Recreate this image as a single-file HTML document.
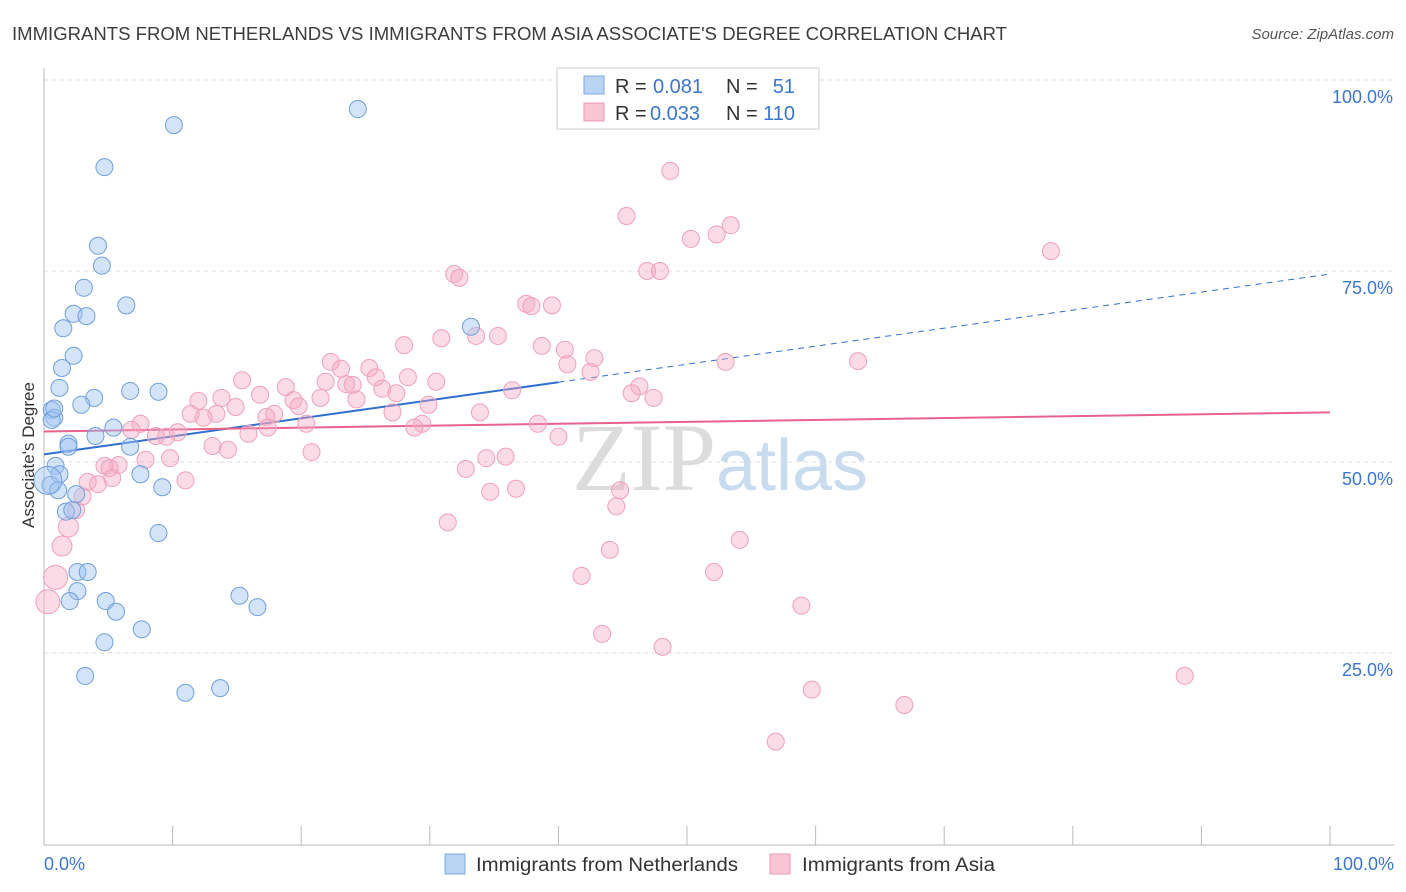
<!DOCTYPE html>
<html><head><meta charset="utf-8"><style>
body{margin:0;background:#fff;font-family:"Liberation Sans",sans-serif;}
svg{display:block}
</style></head><body>
<svg id="chart" width="1406" height="892" xmlns="http://www.w3.org/2000/svg">
<text x="12" y="40" font-size="18" fill="#3c3c3c" textLength="995" lengthAdjust="spacingAndGlyphs">IMMIGRANTS FROM NETHERLANDS VS IMMIGRANTS FROM ASIA ASSOCIATE'S DEGREE CORRELATION CHART</text>
<text x="1394" y="39" font-size="15" fill="#555" font-style="italic" text-anchor="end">Source: ZipAtlas.com</text>
<text x="720" y="490" font-size="96" fill="#dcdcdc" text-anchor="middle" font-family="Liberation Serif,serif">ZIP<tspan fill="#c9dbef" font-family="Liberation Sans,sans-serif" font-size="72">atlas</tspan></text>
<g id="grid"></g><g id="axes"></g><g id="trend"></g><g id="pts"></g>
<text transform="translate(34,455) rotate(-90)" font-size="17" fill="#333" text-anchor="middle">Associate's Degree</text>
<g>
<rect x="557" y="68" width="262" height="61" fill="#fff" stroke="#ccc"/>
<rect x="584" y="76" width="20" height="18" fill="#b9d3f3" stroke="#7fa9e0"/>
<rect x="584" y="103" width="20" height="18" fill="#f9c4d4" stroke="#ef9ab5"/>
<text x="615" y="93" font-size="20" fill="#333">R =</text>
<text x="653" y="93" font-size="20" fill="#3a76d0">0.081</text>
<text x="726" y="93" font-size="20" fill="#333">N =</text>
<text x="795" y="93" font-size="20" fill="#3a76d0" text-anchor="end">51</text>
<text x="615" y="120" font-size="20" fill="#333">R =</text>
<text x="650" y="120" font-size="20" fill="#3a76d0">0.033</text>
<text x="726" y="120" font-size="20" fill="#333">N =</text>
<text x="795" y="120" font-size="20" fill="#3a76d0" text-anchor="end">110</text>
</g>
<g><rect x="445" y="854" width="20" height="20" fill="#b9d3f3" stroke="#7fa9e0"/><text x="476" y="871" font-size="19" fill="#333" textLength="262" lengthAdjust="spacingAndGlyphs">Immigrants from Netherlands</text></g>
<g><rect x="770" y="854" width="20" height="20" fill="#f9c4d4" stroke="#ef9ab5"/><text x="802" y="871" font-size="19" fill="#333" textLength="193" lengthAdjust="spacingAndGlyphs">Immigrants from Asia</text></g>
</svg>
<script>
const blueX=[24.4,10.1,4.7,4.2,4.5,3.1,6.4,2.3,3.3,1.5,2.3,1.4,1.2,6.7,8.9,3.9,2.9,0.6,0.8,0.6,5.4,4.0,1.9,1.9,6.7,0.9,1.2,7.5,0.5,9.2,1.1,2.5,1.7,2.2,8.9,2.6,3.4,2.6,2.0,4.8,5.6,15.2,16.6,7.6,4.7,3.2,11.0,13.7,33.2,0.3,0.8];
const blueY=[96.2,94.1,88.6,78.3,75.7,72.8,70.5,69.4,69.1,67.5,63.9,62.3,59.7,59.3,59.2,58.4,57.5,56.8,55.8,55.5,54.5,53.4,52.4,52.0,52.0,49.5,48.4,48.4,47.0,46.7,46.3,45.8,43.5,43.7,40.7,35.6,35.6,33.1,31.8,31.8,30.4,32.5,31.0,28.1,26.4,22.0,19.8,20.4,67.7,47.6,57.0];
const pinkX=[48.7,45.3,53.4,52.3,50.3,78.3,31.9,32.3,46.9,47.9,37.5,37.9,39.5,30.9,33.6,35.3,28.0,38.7,40.5,42.8,53.0,63.3,40.7,22.3,23.1,25.3,25.8,28.3,21.9,23.5,24.0,26.3,30.5,36.4,15.4,18.8,19.4,19.8,21.5,24.3,27.4,29.9,16.8,12.0,13.8,14.9,46.3,45.7,47.4,42.5,11.4,13.4,12.4,17.3,17.9,20.4,27.1,29.4,28.8,33.9,38.4,40.0,17.4,15.9,8.7,9.5,10.4,7.5,6.8,13.1,14.3,20.8,9.8,7.9,5.8,4.7,5.1,5.3,11.0,3.4,4.2,3.0,2.5,32.8,34.4,35.9,34.7,36.7,44.8,44.5,1.9,1.4,31.4,44.0,54.1,0.9,0.3,41.8,52.1,58.9,43.4,48.1,59.7,66.9,88.7,56.9];
const pinkY=[88.1,82.2,81.0,79.8,79.2,77.6,74.6,74.1,75.0,75.0,70.7,70.4,70.5,66.2,66.5,66.5,65.3,65.2,64.7,63.6,63.1,63.2,62.8,63.1,62.2,62.3,61.1,61.1,60.5,60.2,60.1,59.6,60.5,59.4,60.7,59.8,58.1,57.3,58.4,58.2,59.0,57.5,58.8,58.0,58.4,57.2,59.9,59.0,58.4,61.8,56.3,56.3,55.8,55.9,56.3,55.0,56.5,55.0,54.5,56.5,55.0,53.3,54.5,53.7,53.4,53.3,53.9,55.0,54.2,52.1,51.6,51.3,50.5,50.3,49.6,49.5,49.2,47.9,47.6,47.4,47.1,45.5,43.7,49.1,50.5,50.7,46.1,46.5,46.3,44.2,41.5,39.0,42.1,38.5,39.8,34.9,31.7,35.1,35.6,31.2,27.5,25.8,20.2,18.2,22.0,13.4];
const blueTrend=[51.0,74.6];
const pinkTrend=[54.0,56.5];
const yTicks=[25,50,75,100];
const xTicks=[0,10,20,30,40,50,60,70,80,90,100];
const NS='http://www.w3.org/2000/svg';
const sx=v=>44+v*12.86, sy=v=>844-v*7.64;
function mk(tag,attrs,parent){const e=document.createElementNS(NS,tag);for(const k in attrs)e.setAttribute(k,attrs[k]);document.getElementById(parent).appendChild(e);return e;}
yTicks.forEach(t=>{
 const l=mk('line',{x1:44,x2:1394,y1:sy(t),y2:sy(t),stroke:'#ddd','stroke-dasharray':'4,4'},'grid');
 
 
 const tx=mk('text',{x:1393,y:sy(t)+23,'font-size':18,fill:'#3a76d0','text-anchor':'end'},'grid');tx.textContent=t.toFixed(1)+'%';
 
 
});
const xa=mk('line',{x1:44,x2:1394,y1:845,y2:845,stroke:'#bbb'},'axes');


const ya=mk('line',{x1:44,x2:44,y1:68,y2:845,stroke:'#bbb'},'axes');


xTicks.forEach(t=>{const l=mk('line',{x1:sx(t),x2:sx(t),y1:826,y2:845,stroke:'#bbb'},'axes');
 
 });
[[0,'0.0%','start',44],[100,'100.0%','end',1394]].forEach(a=>{const t=mk('text',{x:a[3],y:870,'font-size':18,fill:'#3a76d0','text-anchor':a[2]},'axes');t.textContent=a[1];
 
 });
const bAt=x=>blueTrend[0]+(blueTrend[1]-blueTrend[0])*x/100;
let t1=mk('line',{x1:sx(0),y1:sy(bAt(0)),x2:sx(40),y2:sy(bAt(40)),stroke:'#2f6fd0','stroke-width':2},'trend');


let t2=mk('line',{x1:sx(40),y1:sy(bAt(40)),x2:sx(100),y2:sy(bAt(100)),stroke:'#2f6fd0','stroke-width':1,'stroke-dasharray':'6,5'},'trend');


let t3=mk('line',{x1:sx(0),y1:sy(pinkTrend[0]),x2:sx(100),y2:sy(pinkTrend[1]),stroke:'#e8628e','stroke-width':2},'trend');


pinkX.forEach((x,i)=>{const r=x<1?12:x<2.5?10:8.5;
 const c=mk('circle',{cx:sx(x),cy:sy(pinkY[i]),r:r,fill:'rgba(246,168,192,0.4)',stroke:'#f0a0ba','stroke-width':1},'pts');
 
 });
blueX.forEach((x,i)=>{const r=(i==49)?14:8.5;
 const c=mk('circle',{cx:sx(x),cy:sy(blueY[i]),r:r,fill:'rgba(160,196,240,0.45)',stroke:'#6f9fdc','stroke-width':1},'pts');
 
 });
</script>
</body></html>
